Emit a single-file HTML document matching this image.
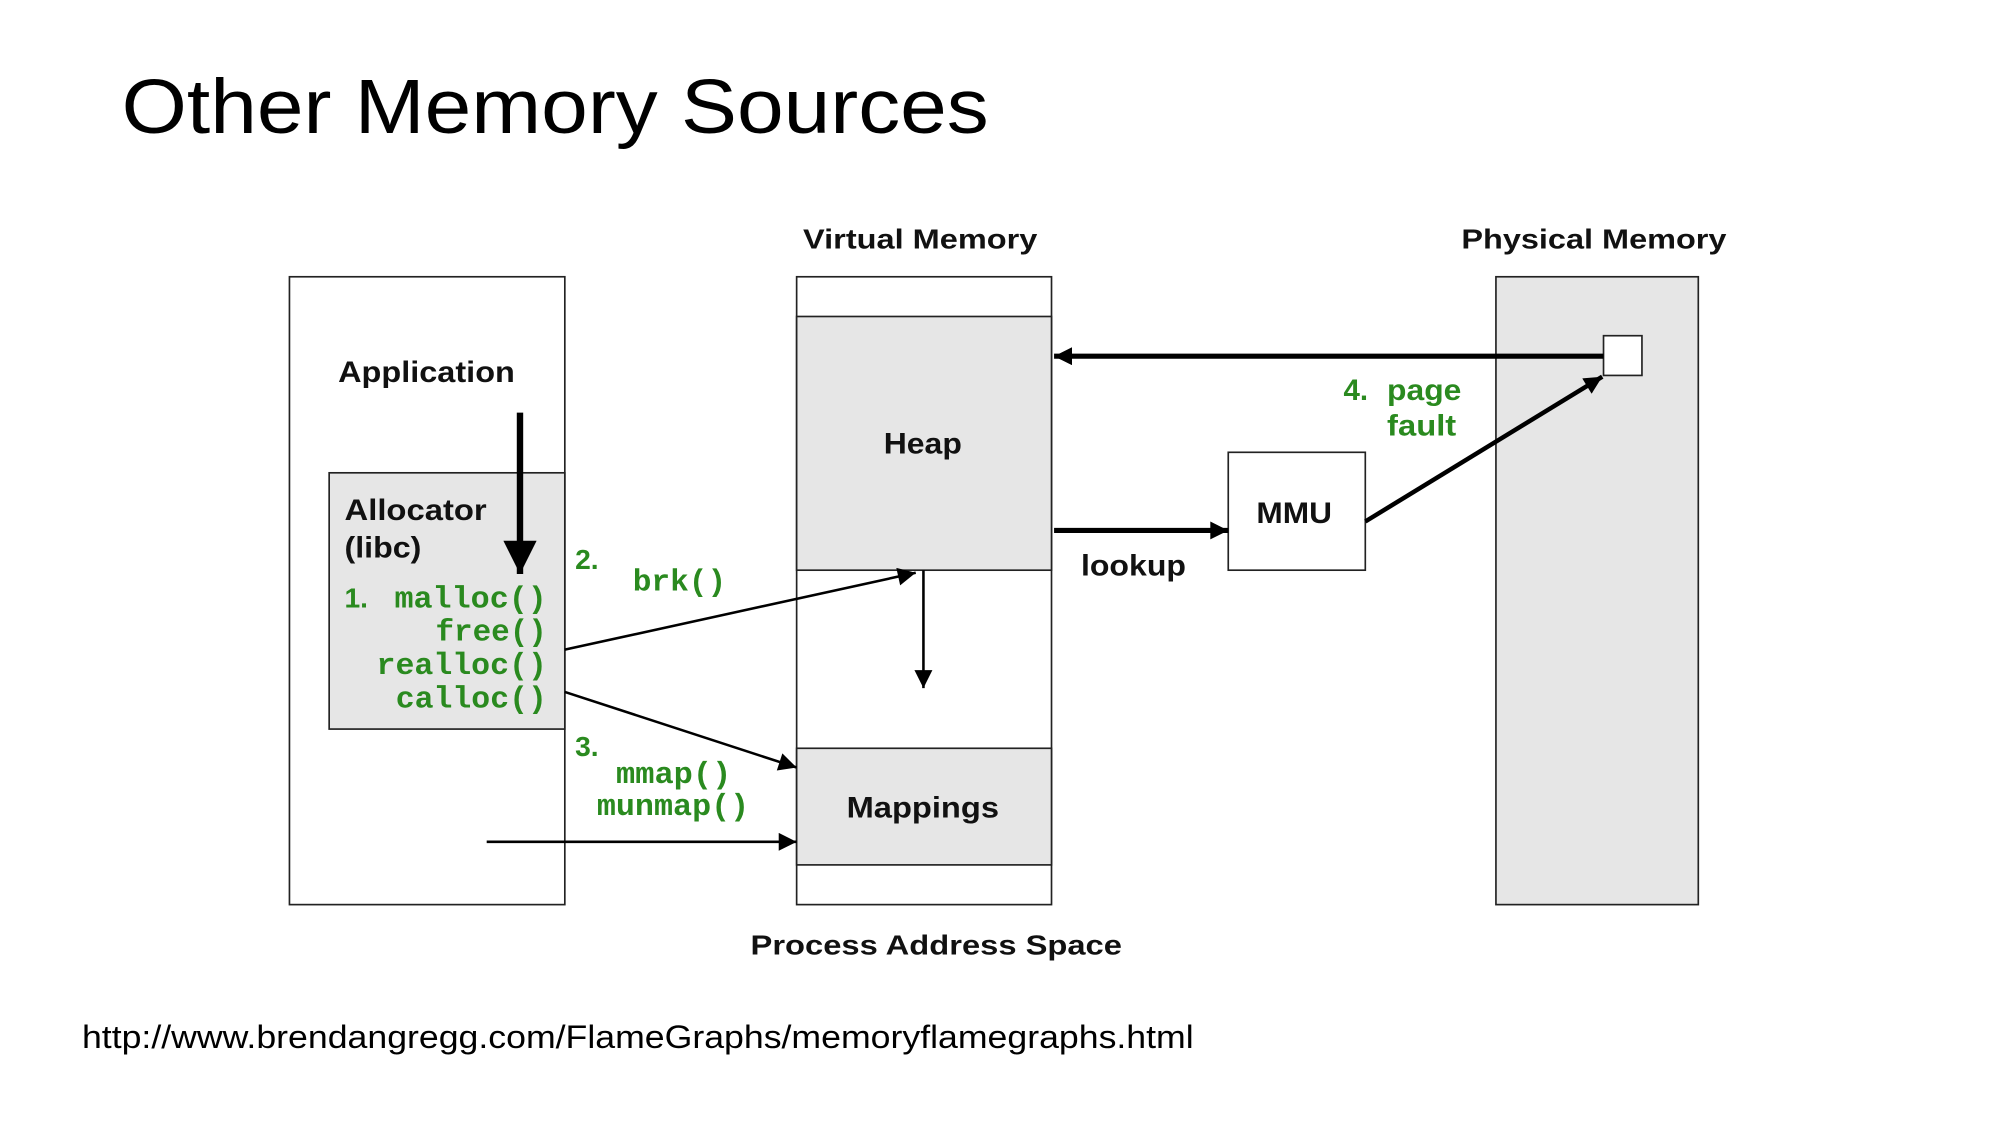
<!DOCTYPE html>
<html><head><meta charset="utf-8"><style>
html,body{margin:0;padding:0;background:#fff;}
svg{display:block;}
.b{font-family:"Liberation Sans",sans-serif;font-weight:bold;fill:#111;}
.g{font-family:"Liberation Mono",monospace;font-weight:bold;fill:#2a8a1f;}
.gs{font-family:"Liberation Sans",sans-serif;font-weight:bold;fill:#2a8a1f;}
</style></head><body>
<svg width="1998" height="1125" viewBox="0 0 1560 878" preserveAspectRatio="none" xmlns="http://www.w3.org/2000/svg">
<defs>
<marker id="a" viewBox="0 0 10 10" refX="10" refY="5" markerWidth="18" markerHeight="14" markerUnits="userSpaceOnUse" orient="auto"><path d="M0,0 L10,5 L0,10 z" fill="#000"/></marker>
<marker id="big" viewBox="0 0 10 10" refX="10" refY="5" markerWidth="28" markerHeight="26" markerUnits="userSpaceOnUse" orient="auto"><path d="M0,0 L10,5 L0,10 z" fill="#000"/></marker>
</defs>
<text x="95" y="104" font-family="Liberation Sans,sans-serif" font-size="60" textLength="677" lengthAdjust="spacingAndGlyphs" fill="#000">Other Memory Sources</text>

<rect x="226" y="216" width="215" height="490" fill="#fff" stroke="#222" stroke-width="1.3"/>
<rect x="257" y="369" width="184" height="200" fill="#e6e6e6" stroke="#222" stroke-width="1.3"/>
<rect x="622" y="216" width="199" height="490" fill="#fff" stroke="#222" stroke-width="1.3"/>
<rect x="622" y="247" width="199" height="198" fill="#e6e6e6" stroke="#222" stroke-width="1.3"/>
<rect x="622" y="584" width="199" height="91" fill="#e6e6e6" stroke="#222" stroke-width="1.3"/>
<rect x="1168" y="216" width="158" height="490" fill="#e6e6e6" stroke="#222" stroke-width="1.3"/>
<rect x="1252" y="262" width="30" height="31" fill="#fff" stroke="#222" stroke-width="1.3"/>
<rect x="959" y="353" width="107" height="92" fill="#fff" stroke="#222" stroke-width="1.3"/>

<text class="b" x="627" y="194" font-size="22" textLength="183" lengthAdjust="spacingAndGlyphs">Virtual Memory</text>
<text class="b" x="1141" y="194" font-size="22" textLength="207" lengthAdjust="spacingAndGlyphs">Physical Memory</text>
<text class="b" x="264" y="298" font-size="23" textLength="138" lengthAdjust="spacingAndGlyphs">Application</text>
<text class="b" x="269" y="406" font-size="23" textLength="111" lengthAdjust="spacingAndGlyphs">Allocator</text>
<text class="b" x="269" y="435" font-size="23" textLength="60" lengthAdjust="spacingAndGlyphs">(libc)</text>
<text class="b" x="690" y="354" font-size="23" textLength="61" lengthAdjust="spacingAndGlyphs">Heap</text>
<text class="b" x="661" y="638" font-size="23" textLength="119" lengthAdjust="spacingAndGlyphs">Mappings</text>
<text class="b" x="981" y="408" font-size="23" textLength="59" lengthAdjust="spacingAndGlyphs">MMU</text>
<text class="b" x="844" y="449" font-size="23" textLength="82" lengthAdjust="spacingAndGlyphs">lookup</text>
<text class="b" x="586" y="745" font-size="22" textLength="290" lengthAdjust="spacingAndGlyphs">Process Address Space</text>

<text class="gs" x="269" y="474" font-size="22">1.</text>
<text class="g" x="308" y="474" font-size="24" textLength="119" lengthAdjust="spacingAndGlyphs">malloc()</text>
<text class="g" x="340" y="500" font-size="24" textLength="87" lengthAdjust="spacingAndGlyphs">free()</text>
<text class="g" x="294" y="526" font-size="24" textLength="133" lengthAdjust="spacingAndGlyphs">realloc()</text>
<text class="g" x="309" y="552" font-size="24" textLength="118" lengthAdjust="spacingAndGlyphs">calloc()</text>
<text class="gs" x="449" y="444" font-size="22">2.</text>
<text class="g" x="494" y="461" font-size="24" textLength="73" lengthAdjust="spacingAndGlyphs">brk()</text>
<text class="gs" x="449" y="590" font-size="22">3.</text>
<text class="g" x="481" y="611" font-size="24" textLength="90" lengthAdjust="spacingAndGlyphs">mmap()</text>
<text class="g" x="466" y="636" font-size="24" textLength="119" lengthAdjust="spacingAndGlyphs">munmap()</text>
<text class="gs" x="1049" y="312" font-size="23">4.</text>
<text class="gs" x="1083" y="312" font-size="23" textLength="58" lengthAdjust="spacingAndGlyphs">page</text>
<text class="gs" x="1083" y="340" font-size="23" textLength="54" lengthAdjust="spacingAndGlyphs">fault</text>

<line x1="406" y1="322" x2="406" y2="448" stroke="#000" stroke-width="5" marker-end="url(#big)" />
<line x1="721" y1="445" x2="721" y2="537" stroke="#000" stroke-width="2" marker-end="url(#a)"/>
<line x1="441" y1="507" x2="715" y2="447" stroke="#000" stroke-width="2" marker-end="url(#a)"/>
<line x1="441" y1="540" x2="622" y2="599" stroke="#000" stroke-width="2" marker-end="url(#a)"/>
<line x1="380" y1="657" x2="622" y2="657" stroke="#000" stroke-width="2" marker-end="url(#a)"/>
<line x1="823" y1="414" x2="959" y2="414" stroke="#000" stroke-width="4" marker-end="url(#a)"/>
<line x1="1066" y1="407" x2="1251" y2="294" stroke="#000" stroke-width="3.5" marker-end="url(#a)"/>
<line x1="1252" y1="278" x2="823" y2="278" stroke="#000" stroke-width="4" marker-end="url(#a)"/>

<text x="64" y="818" font-family="Liberation Sans,sans-serif" font-size="25" textLength="868" lengthAdjust="spacingAndGlyphs" fill="#000">http://www.brendangregg.com/FlameGraphs/memoryflamegraphs.html</text>
</svg>
</body></html>
